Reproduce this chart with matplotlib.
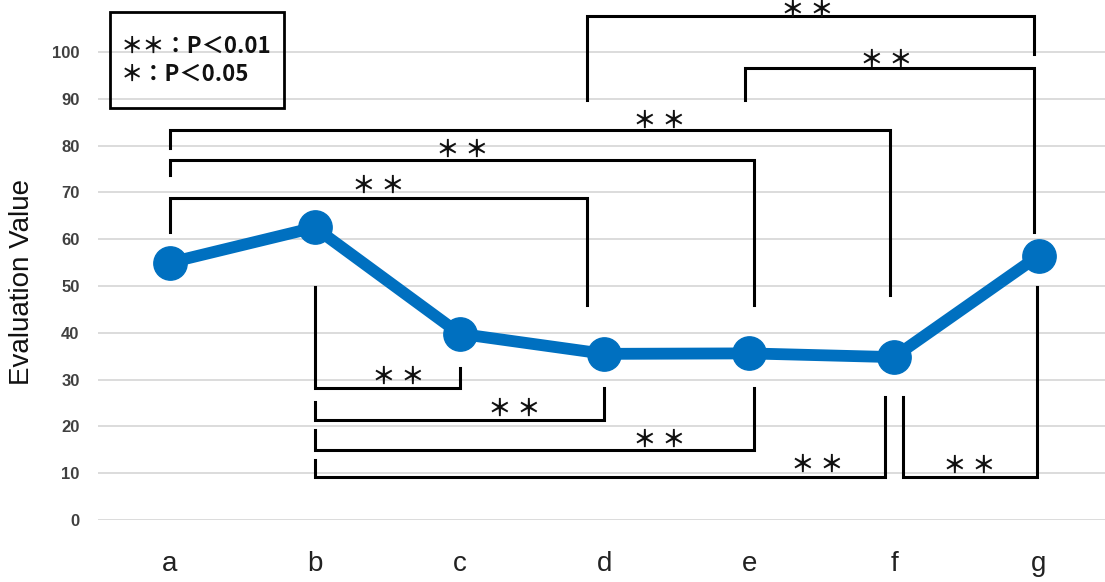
import matplotlib.pyplot as plt
from matplotlib.patches import Rectangle

# Mean evaluation value per condition
categories = ['a', 'b', 'c', 'd', 'e', 'f', 'g']
values = [55.0, 62.5, 39.8, 35.5, 35.6, 34.8, 56.5]

# Significance brackets:
# left x, right x, bar height, left leg end, right leg end, star x, star y
brackets = [
    (0.00, 2.88, 68.8, 61.5, 45.9, 1.44, 71.6),   # a-d
    (0.00, 4.03, 76.9, 73.7, 45.9, 2.02, 79.3),   # a-e
    (0.00, 4.97, 83.3, 79.5, 48.1, 3.38, 85.6),   # a-f
    (2.88, 5.97, 107.7, 89.7, 99.6, 4.40, 109.3), # d-g
    (3.97, 5.97, 96.6, 89.7, 61.5, 4.95, 98.6),   # e-g
    (1.00, 2.00, 28.2, 49.8, 32.5, 1.58, 30.8),   # b-c
    (1.00, 3.00, 21.4, 25.2, 28.2, 2.38, 24.1),   # b-d
    (1.00, 4.03, 15.0, 19.2, 28.2, 3.38, 17.5),   # b-e
    (1.00, 4.94, 9.2, 12.8, 26.3, 4.47, 12.0),    # b-f
    (5.06, 5.99, 9.2, 26.3, 49.8, 5.52, 11.8),    # f-g
]
star_labels = ['＊ ＊'] * len(brackets)

legend_lines = ['＊＊：P＜0.01', '＊：P＜0.05']

plt.rcParams['font.family'] = ['Liberation Sans', 'Noto Sans CJK JP', 'DejaVu Sans']

fig = plt.figure(figsize=(11.05, 5.82), dpi=100)
ax = fig.add_axes([0.0883, 0.1065, 0.9117, 0.8935])

x = list(range(len(categories)))
ax.plot(x, values, color='#0070C0', linewidth=8.5, marker='o', markersize=24,
        solid_capstyle='round', zorder=3)

# brackets with their star marks
for (x0, x1, bar, l_end, r_end, sx, sy), lab in zip(brackets, star_labels):
    ax.plot([x0, x0, x1, x1], [l_end, bar, bar, r_end], color='black',
            linewidth=2.2, solid_joinstyle='miter', zorder=4)
    ax.text(sx, sy - 0.3, lab, ha='center', va='center', fontsize=17,
            family=['Noto Sans CJK JP'], fontweight='bold', color='#111111',
            zorder=5)

ax.set_xlim(-0.5, 6.457)
ax.set_ylim(0, 111.1)
ax.set_xticks(x)
ax.set_xticklabels(categories, fontsize=20)
ax.set_yticks(range(0, 101, 10))
ax.tick_params(axis='x', length=0, pad=22, colors='#222222')
ax.tick_params(axis='y', length=0, pad=13, labelsize=12, colors='#404040')
for t in ax.get_yticklabels():
    t.set_fontweight('bold')
ax.grid(axis='y', color='#d9d9d9', linewidth=1.3)
ax.set_axisbelow(True)
for s in ax.spines.values():
    s.set_visible(False)

fig.text(22 / 1105, 1 - 282 / 582, 'Evaluation Value', rotation=90,
         ha='center', va='center', fontsize=20, color='#111111')

# significance legend box
fig.patches.append(Rectangle((110 / 1105, 1 - 108 / 582), 174 / 1105, 96 / 582,
                             transform=fig.transFigure, fill=False,
                             edgecolor='black', linewidth=2))
for i, line in enumerate(legend_lines):
    fig.text(121 / 1105, 1 - (46 + 28 * i) / 582, line, ha='left', va='center',
             fontsize=16, family=['Noto Sans CJK JP'], fontweight='bold',
             color='#111111')

fig.savefig('out.png', dpi=100)
